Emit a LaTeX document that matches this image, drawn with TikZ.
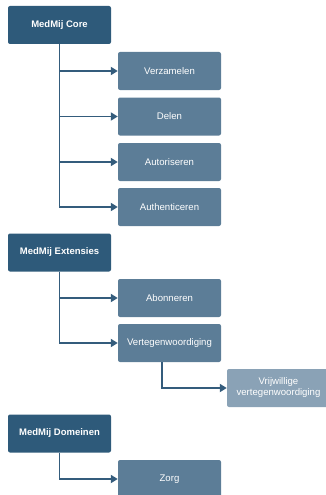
\documentclass[tikz,border=0pt]{standalone}
\usepackage{fontspec}
\setmainfont{Liberation Sans}
\usepackage{tikz}
\usetikzlibrary{arrows.meta}
\definecolor{headBlue}{RGB}{46,90,122}
\definecolor{itemBlue}{RGB}{92,125,151}
\definecolor{lightBlue}{RGB}{138,162,182}
\definecolor{lineBlue}{RGB}{52,92,124}

\begin{document}
\begin{tikzpicture}[x=1pt,y=1pt,
        headBox/.style={fill=headBlue,rounded corners=2pt,minimum width=103pt,minimum height=38pt,
          text=white,font=\fontsize{9.5}{11}\selectfont\bfseries},
        itemBox/.style={fill=itemBlue,rounded corners=2pt,minimum width=103pt,minimum height=38pt,
          text=white,font=\fontsize{9.6}{11}\selectfont},
        subBox/.style={itemBox,fill=lightBlue,align=center},
        conn/.style={draw=lineBlue,line width=1.8pt,-{Triangle[length=7pt,width=8pt]}}]
        \useasboundingbox (0,0) rectangle (326,-495);
        % MedMij Core
        \node[headBox] (medmijCore) at (59.5,-25){MedMij Core};
        \node[itemBox] (verzamelen) at (169.5,-71){Verzamelen};
        \node[itemBox] (delen) at (169.5,-116.5){Delen};
        \node[itemBox] (autoriseren) at (169.5,-162){Autoriseren};
        \node[itemBox] (authenticeren) at (169.5,-207){Authenticeren};
        % MedMij Extensies
        \node[headBox] (medmijExtensies) at (59.5,-252.5){MedMij Extensies};
        \node[itemBox] (abonneren) at (169.5,-298){Abonneren};
        \node[itemBox] (vertegenwoordiging) at (169.5,-343){Vertegenwoordiging};
        \node[subBox] (vrijwillige) at (278.5,-388){Vrijwillige\\vertegenwoordiging};
        % MedMij Domeinen
        \node[headBox] (medmijDomeinen) at (59.5,-433.5){MedMij Domeinen};
        \node[itemBox] (zorg) at (169.5,-479){Zorg};
        \foreach \child in {verzamelen,delen,autoriseren,authenticeren}
          \draw[conn] (medmijCore.south) |- (\child.west);
        \foreach \child in {abonneren,vertegenwoordiging}
          \draw[conn] (medmijExtensies.south) |- (\child.west);
        \draw[conn] ([xshift=-7.5pt]vertegenwoordiging.south) |- (vrijwillige.west);
        \draw[conn] (medmijDomeinen.south) |- (zorg.west);
      \end{tikzpicture}
\end{document}
